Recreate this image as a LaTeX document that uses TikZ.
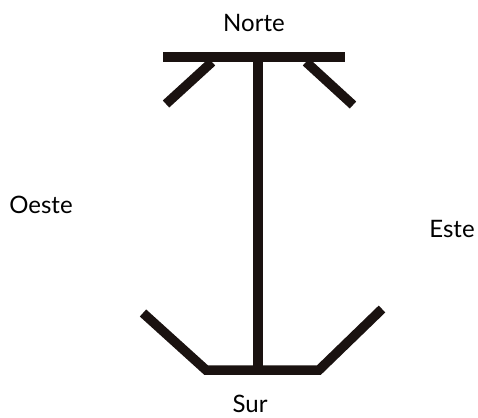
\documentclass[tikz,border=0pt]{standalone}
\usepackage{fontspec}
\setmainfont{Lato}
\usetikzlibrary{positioning}

\begin{document}
\begin{tikzpicture}[x=1pt,y=-1pt,font=\fontsize{24}{28}\selectfont,bar/.style={line width=9.5pt,draw={rgb,255:red,26;green,18;blue,16}},lbl/.style={inner sep=0pt}]
\useasboundingbox (0,0) rectangle (478,417);
\node[lbl] (norte) at (254,23) {Norte};
\node[lbl] (sur) at (250,404) {Sur};
\node[lbl] (oeste) at (41,205) {Oeste};
\node[lbl] (este) at (452,229) {Este};
\draw[bar] (163,57)--(345,57);
\draw[bar] (258,57)--(258,370);
\draw[bar] (212,62)--(166,104);
\draw[bar] (306,62)--(353,105);
\draw[bar] (143,313)--(206,370)--(319,370)--(382,309);
\end{tikzpicture}
\end{document}
